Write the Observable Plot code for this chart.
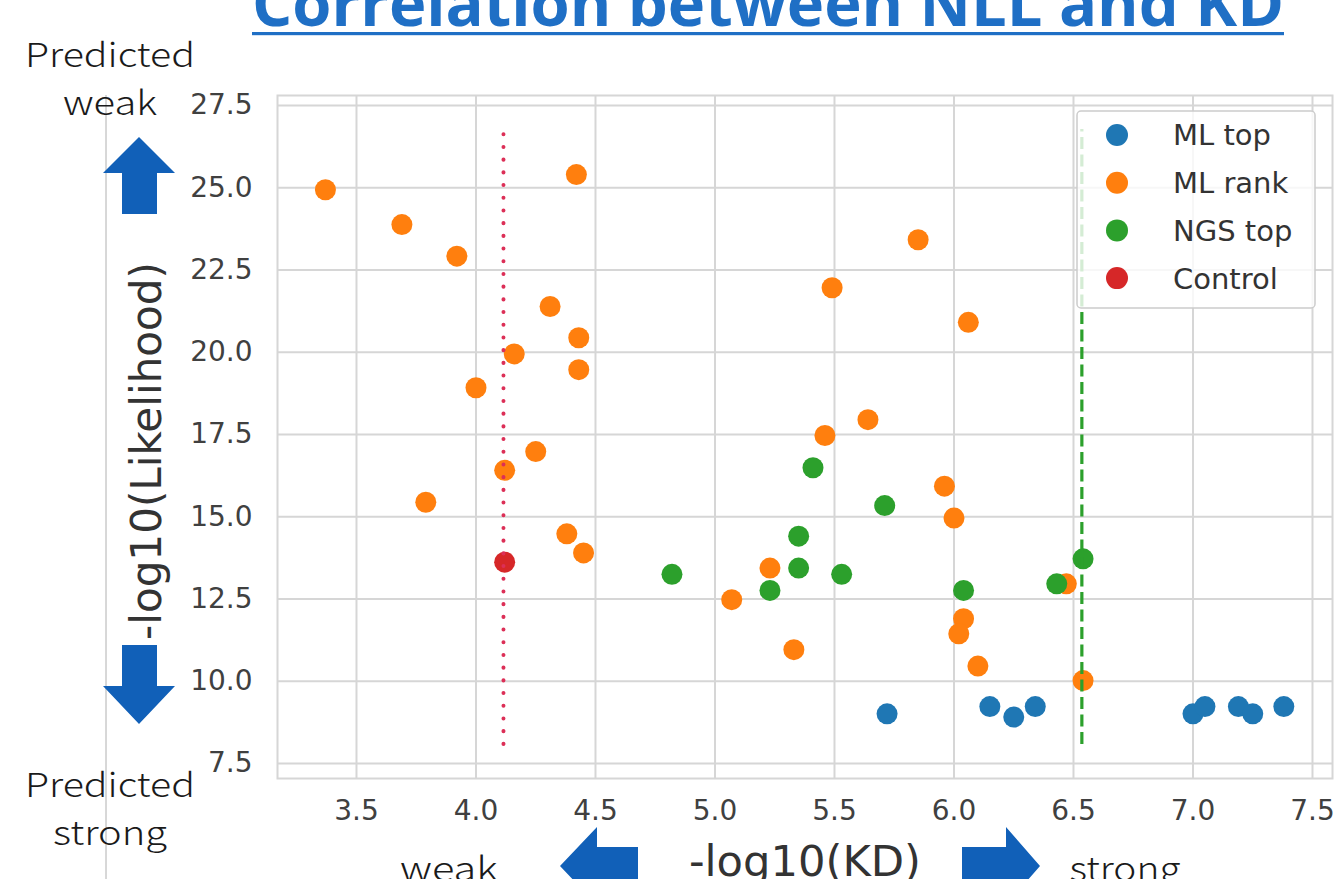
<!DOCTYPE html>
<html>
<head>
<meta charset="utf-8">
<script src="https://cdn.jsdelivr.net/npm/d3@7"></script>
<script src="https://cdn.jsdelivr.net/npm/@observablehq/plot@0.6"></script>
<style>
  html, body { margin: 0; padding: 0; background: #fff; overflow: hidden; }
  #wrap { position: relative; width: 1337px; height: 879px; overflow: hidden; background: #fff; }
  #wrap > svg { position: absolute; left: 0; top: 0; }
</style>
</head>
<body>
<div id="wrap"></div>
<script>
// ---------------- data ----------------
const groups = ["ML top", "ML rank", "NGS top", "Control"];
const groupColors = ["#1f77b4", "#ff7f0e", "#2ca02c", "#d62728"];

const mlTopX = [5.72, 6.15, 6.25, 6.34, 7.00, 7.05, 7.19, 7.25, 7.38];
const mlTopY = [9.01, 9.23, 8.91, 9.23, 9.01, 9.23, 9.23, 9.01, 9.23];

const mlRankX = [3.37, 3.69, 3.92, 4.42, 4.31, 4.43, 4.16, 4.43, 4.00, 4.25, 4.12, 3.79, 4.38, 4.45,
                 5.49, 5.85, 6.06, 5.64, 5.46, 5.96, 6.00, 5.23, 5.07, 5.33, 6.04, 6.02, 6.10, 6.47, 6.54];
const mlRankY = [24.94, 23.88, 22.92, 25.40, 21.39, 20.44, 19.95, 19.47, 18.92, 16.98, 16.41, 15.44, 14.48, 13.90,
                 21.96, 23.42, 20.91, 17.95, 17.47, 15.93, 14.96, 13.44, 12.48, 10.96, 11.90, 11.44, 10.46, 12.96, 10.02];

const ngsTopX = [5.41, 5.71, 5.35, 5.35, 4.82, 5.53, 5.23, 6.04, 6.43, 6.54];
const ngsTopY = [16.49, 15.34, 14.41, 13.44, 13.25, 13.25, 12.76, 12.76, 12.96, 13.72];

const controlX = [4.12];
const controlY = [13.62];

// vertical reference lines (control KD, NGS threshold)
const refLineX = [4.115, 6.535];
const refLineY = [8.08, 26.77];

const xTicks = [3.5, 4.0, 4.5, 5.0, 5.5, 6.0, 6.5, 7.0, 7.5];
const yTicks = [7.5, 10.0, 12.5, 15.0, 17.5, 20.0, 22.5, 25.0, 27.5];

// ---------------- build rows ----------------
const points = [
  ...mlTopX.map((x, i) => ({group: groups[0], x, y: mlTopY[i]})),
  ...mlRankX.map((x, i) => ({group: groups[1], x, y: mlRankY[i]})),
  ...ngsTopX.map((x, i) => ({group: groups[2], x, y: ngsTopY[i]})),
  ...controlX.map((x, i) => ({group: groups[3], x, y: controlY[i]}))
];

const W = 1337, H = 879;
const gridColor = "#d6d6d6";

const chart = Plot.plot({
  width: W,
  height: H,
  marginLeft: 277,
  marginRight: 5,
  marginTop: 95,
  marginBottom: 101,
  style: {fontFamily: "'DejaVu Sans', sans-serif", fontSize: "28px", color: "#404040", background: "transparent", overflow: "visible"},
  x: {domain: [3.1695, 7.5837], label: null},
  y: {domain: [7.044, 27.804], label: null},
  color: {domain: groups, range: groupColors},
  marks: [
    Plot.gridX(xTicks, {stroke: gridColor, strokeOpacity: 1, strokeWidth: 2}),
    Plot.gridY(yTicks, {stroke: gridColor, strokeOpacity: 1, strokeWidth: 2}),
    Plot.frame({stroke: gridColor, strokeWidth: 2}),
    Plot.axisX(xTicks, {tickSize: 0, tickPadding: 22, tickFormat: d3.format(".1f"), label: null, fill: "#404040"}),
    Plot.axisY(yTicks, {tickSize: 0, tickPadding: 25, tickFormat: d3.format(".1f"), label: null, fill: "#404040"}),
    Plot.dot(points, {x: "x", y: "y", fill: "group", r: 10.5, stroke: null}),
    Plot.ruleX([refLineX[0]], {y1: refLineY[0], y2: refLineY[1], stroke: "#dc2f57", strokeWidth: 4,
      strokeDasharray: "0.1,12.6", strokeLinecap: "round"}),
    Plot.ruleX([refLineX[1]], {y1: refLineY[0], y2: refLineY[1], stroke: "#2ca02c", strokeWidth: 3.2,
      strokeDasharray: "12,5.5"})
  ]
});

const wrap = document.getElementById("wrap");
wrap.appendChild(chart);

// ---------------- slide decorations (title, annotations, arrows, legend) ----------------
const ov = d3.select(wrap).append("svg")
  .attr("width", W).attr("height", H)
  .attr("viewBox", `0 0 ${W} ${H}`)
  .style("overflow", "hidden");

// left edge line of the embedded picture
ov.append("line").attr("x1", 106).attr("x2", 106).attr("y1", 95).attr("y2", H)
  .attr("stroke", "#b0b0b0").attr("stroke-width", 1);

// title
const titleBlue = "#1f6fc5";
ov.append("text")
  .attr("x", 768).attr("y", 26)
  .attr("text-anchor", "middle")
  .attr("font-family", "'Liberation Sans Narrow', 'Open Sans', sans-serif")
  .attr("font-weight", 700).attr("font-size", 62)
  .attr("fill", titleBlue)
  .attr("textLength", 1032).attr("lengthAdjust", "spacingAndGlyphs")
  .text("Correlation between NLL and KD");
ov.append("rect").attr("x", 252).attr("y", 32).attr("width", 1032).attr("height", 3.2).attr("fill", titleBlue);

// annotation texts
const annFont = "'Noto Sans CJK JP', 'Noto Sans', sans-serif";
const ann = [
  {t: "Predicted", x: 110, y: 67, w: 170},
  {t: "weak", x: 110, y: 115, w: 94},
  {t: "Predicted", x: 110, y: 797, w: 170},
  {t: "strong", x: 110, y: 845, w: 114},
  {t: "weak", x: 449, y: 881, w: 98},
  {t: "strong", x: 1125, y: 881, w: 111}
];
ov.selectAll("text.ann").data(ann).join("text")
  .attr("class", "ann")
  .attr("x", d => d.x).attr("y", d => d.y)
  .attr("text-anchor", "middle")
  .attr("font-family", annFont).attr("font-weight", 300).attr("font-size", 33)
  .attr("fill", "#1a1a1a")
  .attr("textLength", d => d.w).attr("lengthAdjust", "spacingAndGlyphs")
  .text(d => d.t);

// arrows
const arrowBlue = "#1160b8";
const arrows = [
  [[139,137],[175,173],[157,173],[157,214],[122,214],[122,173],[103,173]],   // up
  [[122,645],[157,645],[157,686],[175,686],[139,724],[103,686],[122,686]],   // down
  [[560,866],[597,827],[597,847],[638,847],[638,885],[597,885],[597,905]],   // left
  [[962,847],[1006,847],[1006,827],[1040,866],[1006,905],[1006,885],[962,885]] // right
];
ov.selectAll("polygon.arrow").data(arrows).join("polygon")
  .attr("class", "arrow")
  .attr("points", d => d.map(p => p.join(",")).join(" "))
  .attr("fill", arrowBlue);

// axis labels
ov.append("text")
  .attr("x", 805).attr("y", 876)
  .attr("text-anchor", "middle")
  .attr("font-family", "'DejaVu Sans', sans-serif").attr("font-size", 43)
  .attr("fill", "#333")
  .attr("textLength", 232).attr("lengthAdjust", "spacingAndGlyphs")
  .text("-log10(KD)");
ov.append("text")
  .attr("transform", "translate(161,451) rotate(-90)")
  .attr("text-anchor", "middle")
  .attr("font-family", "'DejaVu Sans', sans-serif").attr("font-size", 42)
  .attr("fill", "#333")
  .attr("textLength", 378).attr("lengthAdjust", "spacingAndGlyphs")
  .text("-log10(Likelihood)");

// legend (inside the axes, upper right)
const lg = ov.append("g");
lg.append("rect").attr("x", 1077).attr("y", 111).attr("width", 238).attr("height", 197).attr("rx", 4)
  .attr("fill", "#fff").attr("fill-opacity", 0.8).attr("stroke", "#cccccc").attr("stroke-width", 1.5);
const items = lg.selectAll("g.item").data(groups).join("g").attr("class", "item")
  .attr("transform", (d, i) => `translate(0,${135 + i * 47.7})`);
items.append("circle").attr("cx", 1117).attr("cy", 0).attr("r", 11).attr("fill", (d, i) => groupColors[i]);
items.append("text").attr("x", 1173).attr("y", 0).attr("dy", "0.36em")
  .attr("font-family", "'DejaVu Sans', sans-serif").attr("font-size", 29).attr("fill", "#333")
  .text(d => d);
</script>
</body>
</html>
